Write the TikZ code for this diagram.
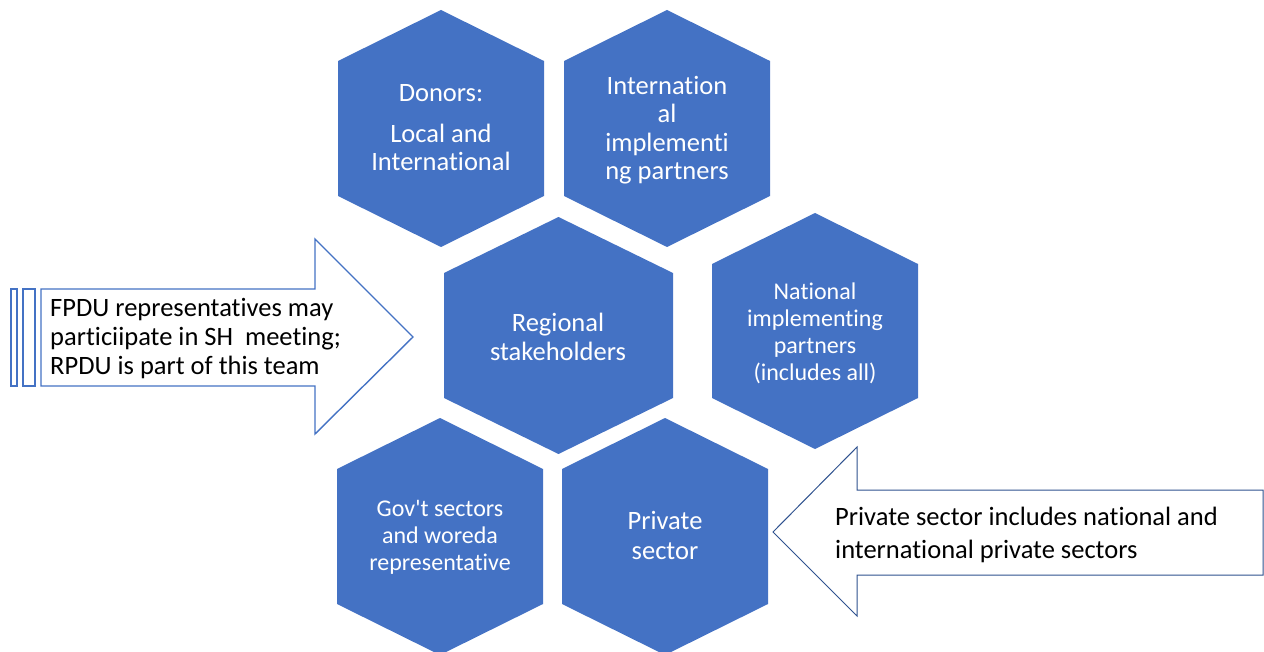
\documentclass[tikz,border=0pt]{standalone}
\usepackage{fontspec}
\setmainfont{Carlito}[Ligatures=NoCommon]
\definecolor{hexblue}{HTML}{4472C4}
\definecolor{darkblue}{HTML}{2F528F}
\begin{document}
\begin{tikzpicture}[x=1pt,y=-1pt,
  hextext/.style={text=white,align=center,font=\fontsize{26.5}{28.5}\selectfont,inner sep=0pt},
  hextextsmall/.style={text=white,align=center,font=\fontsize{24}{27}\selectfont,inner sep=0pt},
  arrowtext/.style={text=black,align=left,anchor=west,inner sep=0pt},
  hexfill/.style={fill=hexblue},
  leftarrow/.style={draw=hexblue,line width=1.4pt,fill=white},
  rightarrow/.style={draw=darkblue,line width=1pt,fill=white}]
\useasboundingbox (0,0) rectangle (1264,652);
% hexagons: center x, half width, top y, rise, height
\newcommand{\hexshape}[5]{%
  \fill[hexfill] (#1,#3) -- (#1+#2,#3+#4) -- (#1+#2,#3+#5-#4) -- (#1,#3+#5)
   -- (#1-#2,#3+#5-#4) -- (#1-#2,#3+#4) -- cycle;}
\hexshape{441}{103}{10}{51}{237}
\hexshape{667}{103}{10}{51}{237}
\hexshape{558.5}{114.5}{217}{56}{237}
\hexshape{815}{103}{213}{51}{236}
\hexshape{440}{103}{418}{51}{237}
\hexshape{665}{103}{418}{51}{237}
\node[hextext] (donors) at (441,128) {Donors:\\[12pt]Local and\\International};
\node[hextext] (intl) at (667,130) {Internation\\al\\implementi\\ng partners};
\node[hextext] (regional) at (558,337) {Regional\\stakeholders};
\node[hextextsmall] (national) at (815,333) {National\\implementing\\partners\\(includes all)};
\node[hextextsmall] (gov) at (440,537) {Gov\textquotesingle t sectors\\and woreda\\representative};
\node[hextext,font=\fontsize{26.5}{30}\selectfont] (private) at (665,535) {Private\\sector};
% left arrow
\draw[leftarrow] (11,289) rectangle (17,386);
\draw[leftarrow] (23,289) rectangle (35,386);
\draw[leftarrow] (41,289) -- (315,289) -- (315,239) -- (413,337) -- (315,434) -- (315,386) -- (41,386) -- cycle;
\node[arrowtext,font=\fontsize{26.5}{29}\selectfont] (fpdu) at (50,339) {FPDU representatives may\\particiipate in SH\ \ meeting;\\RPDU is part of this team};
% right arrow
\draw[rightarrow] (1263,490) -- (857,490) -- (857,447) -- (773,532) -- (857,616) -- (857,575) -- (1263,575) -- cycle;
\node[arrowtext,font=\fontsize{26.5}{33}\selectfont] (privnote) at (835,535) {Private sector includes national and\\international private sectors};
\end{tikzpicture}
\end{document}
